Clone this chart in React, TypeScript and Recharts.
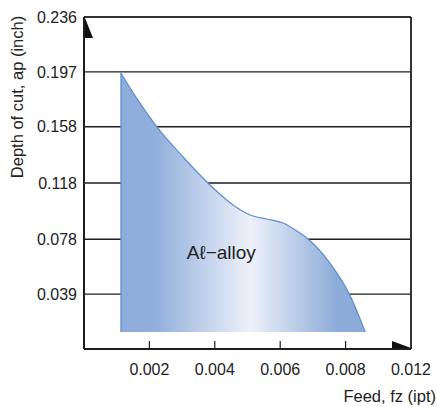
import React from 'react';
import { AreaChart, Area, XAxis, YAxis, CartesianGrid, ReferenceLine, ReferenceDot } from 'recharts';

// boundary of the Al-alloy working range (feed in ipt, depth of cut in inch)
const feed = [0.00113, 0.00168, 0.00226, 0.00303, 0.00385, 0.00456, 0.00508, 0.0056, 0.00609, 0.0066, 0.00685, 0.00752, 0.00813, 0.0086];
const depth = [0.196, 0.1758, 0.157, 0.1365, 0.1166, 0.1024, 0.0953, 0.0924, 0.0896, 0.0825, 0.0782, 0.0611, 0.0384, 0.0121];
const baseDepth = 0.0121;

const xTicks = [0.002, 0.004, 0.006, 0.008, 0.01];
const xTickLabels = ['0.002', '0.004', '0.006', '0.008', '0.012'];
const yTicks = [0.039, 0.078, 0.118, 0.158, 0.197, 0.236];
const yTickLabels = ['0.039', '0.078', '0.118', '0.158', '0.197', '0.236'];

const seriesName = 'A\u2113\u2212alloy';
const labelPos = { x: 0.0042, y: 0.068 };

const data = feed.map((f, i) => ({ feed: f, depth: depth[i] }));

const FONT = "'Liberation Sans', Arial, sans-serif";
const INK = '#1e1e1e';

const XTick = (props: any) => {
  const { x, y, payload, index } = props;
  const i = xTicks.indexOf(payload.value);
  return (
    <g>
      {index < xTicks.length - 1 && <line x1={x} y1={y - 8} x2={x} y2={y} stroke={INK} strokeWidth={1.2} />}
      <text x={x} y={y + 26} textAnchor="middle" fill="#222" fontSize={16} fontFamily={FONT}>
        {xTickLabels[i] ?? ''}
      </text>
    </g>
  );
};

const App = () => (
  <div style={{ position: 'absolute', left: 0, top: 0 }}>
    <AreaChart width={437} height={407} data={data} margin={{ top: 17, right: 26, left: 0, bottom: 0 }}>
      <defs>
        <linearGradient id="alloyFill" x1="0" y1="0" x2="1" y2="0">
          <stop offset="0%" stopColor="#8eacd9" />
          <stop offset="15%" stopColor="#93b0dc" />
          <stop offset="53%" stopColor="#eef1fa" />
          <stop offset="88%" stopColor="#8eacd9" />
          <stop offset="100%" stopColor="#8cabd9" />
        </linearGradient>
      </defs>
      <CartesianGrid vertical={false} stroke={INK} strokeWidth={1.3} />
      <XAxis
        dataKey="feed"
        type="number"
        domain={[0, 0.01]}
        ticks={xTicks}
        allowDataOverflow
        height={58}
        tickSize={0}
        tickMargin={0}
        tickLine={false}
        axisLine={{ stroke: INK, strokeWidth: 2 }}
        tick={<XTick />}
        interval={0}
        label={{
          value: 'Feed, fz (ipt)',
          content: () => (
            <text x={436} y={402} textAnchor="end" fill="#222" fontSize={16.5} fontFamily={FONT}>
              Feed, fz (ipt)
            </text>
          ),
        }}
      />
      <YAxis
        type="number"
        domain={[0, 0.236]}
        ticks={yTicks}
        width={84}
        tickSize={0}
        tickMargin={7}
        tickLine={false}
        interval={0}
        axisLine={{ stroke: INK, strokeWidth: 2 }}
        tick={{ fill: '#222', fontSize: 16, fontFamily: FONT }}
        tickFormatter={(v: number) => yTickLabels[yTicks.indexOf(v)] ?? ''}
        label={{
          value: 'Depth of cut, ap (inch)',
          content: () => (
            <text
              x={17}
              y={97}
              transform="rotate(-90 17 97)"
              textAnchor="middle"
              dominantBaseline="central"
              fill="#222"
              fontSize={16.5}
              fontFamily={FONT}
            >
              Depth of cut, ap (inch)
            </text>
          ),
        }}
      />
      <Area
        type="monotone"
        dataKey="depth"
        baseValue={baseDepth}
        stroke="#5b8dcf"
        strokeWidth={1.2}
        fill="url(#alloyFill)"
        fillOpacity={1}
        isAnimationActive={false}
      />
      <ReferenceLine
        segment={[{ x: feed[0], y: baseDepth }, { x: feed[0], y: depth[0] }]}
        stroke="#5b8dcf"
        strokeWidth={1.2}
      />
      <ReferenceLine x={0.01} stroke="#333" strokeWidth={2} />
      <ReferenceLine y={0.236} stroke="#333" strokeWidth={2} />
      <ReferenceDot
        x={0}
        y={0.236}
        ifOverflow="visible"
        shape={(p: any) => (
          <path d={`M${p.cx + 1},${p.cy + 1} L${p.cx + 1},${p.cy + 21} L${p.cx + 9},${p.cy + 21} Z`} fill="#111" />
        )}
      />
      <ReferenceDot
        x={0.01}
        y={0}
        ifOverflow="visible"
        shape={(p: any) => (
          <path d={`M${p.cx},${p.cy - 1} L${p.cx - 19},${p.cy - 1} L${p.cx - 19},${p.cy - 8} Z`} fill="#111" />
        )}
      />
      <ReferenceDot
        x={labelPos.x}
        y={labelPos.y}
        ifOverflow="visible"
        shape={(p: any) => (
          <text x={p.cx} y={p.cy + 6} textAnchor="middle" fill="#222" fontSize={19} fontFamily={FONT}>
            {seriesName}
          </text>
        )}
      />
    </AreaChart>
  </div>
);

export default App;
